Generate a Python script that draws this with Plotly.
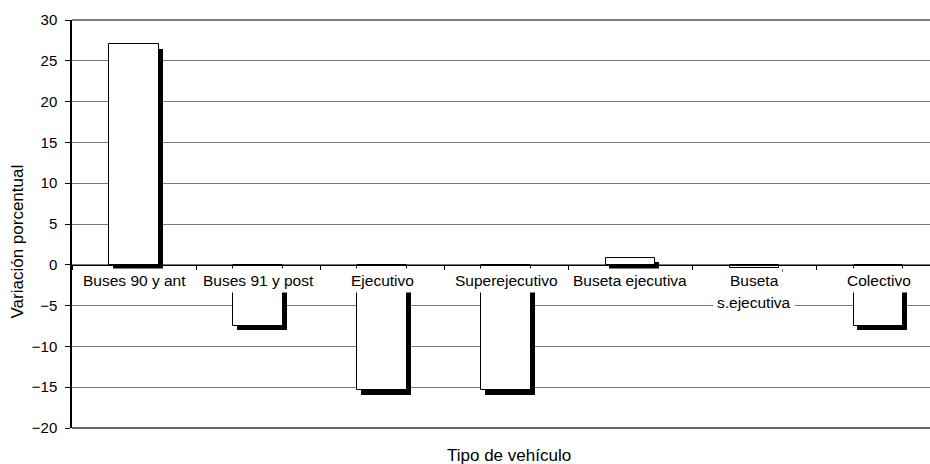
import plotly.graph_objects as go

categories = ["Buses 90 y ant", "Buses 91 y post", "Ejecutivo", "Superejecutivo",
              "Buseta ejecutiva", "Buseta<br>s.ejecutiva", "Colectivo"]
values = [27.0, -7.5, -15.4, -15.4, 0.8, -0.4, -7.5]
y_ticks = [-20, -15, -10, -5, 0, 5, 10, 15, 20, 25, 30]

FONT = "Liberation Sans, Arial, sans-serif"
x_idx = list(range(len(categories)))
boundaries = [i - 0.5 for i in range(len(categories) + 1)]

# shadow offsets (style constants)
SH_X = 0.03   # category units
SH_Y = 0.5    # value units
BAR_W = 0.4

fig = go.Figure()
fig.add_trace(go.Bar(
    x=x_idx, y=values, base=[-SH_Y] * len(values),
    width=BAR_W, offset=-BAR_W / 2 + SH_X,
    marker=dict(color="black", line=dict(width=0)),
    hoverinfo="skip", showlegend=False))
fig.add_trace(go.Bar(
    x=x_idx, y=values,
    width=BAR_W, offset=-BAR_W / 2,
    marker=dict(color="white", line=dict(color="black", width=1)),
    showlegend=False))

annotations = []
for i, lab in enumerate(categories):
    for j, line in enumerate(lab.split("<br>")):
        annotations.append(dict(
            x=i, y=0, xref="x", yref="y", text=line, showarrow=False,
            yanchor="top", xanchor="center", yshift=-3 - 22 * j,
            bgcolor="white", borderpad=3,
            font=dict(family=FONT, size=15.5, color="black")))

annotations.append(dict(
    x=(509 - 72) / 858, y=-27 / 408, xref="paper", yref="paper",
    text="Tipo de vehículo", showarrow=False, xanchor="center", yanchor="middle",
    font=dict(family=FONT, size=17, color="black")))
annotations.append(dict(
    x=-(72 - 17) / 858, y=(428 - 241.5) / 408, xref="paper", yref="paper",
    text="Variación porcentual", showarrow=False, textangle=-90,
    xanchor="center", yanchor="middle",
    font=dict(family=FONT, size=17, color="black")))

fig.update_layout(
    width=930, height=464,
    margin=dict(l=72, r=0, t=20, b=36),
    paper_bgcolor="white", plot_bgcolor="white",
    barmode="overlay", bargap=0,
    annotations=annotations,
    shapes=[
        dict(type="line", xref="paper", yref="paper", x0=0, x1=1, y0=1, y1=1,
             line=dict(color="black", width=1)),
        dict(type="line", xref="paper", yref="paper", x0=0, x1=1, y0=0, y1=0,
             line=dict(color="#333333", width=1.5), layer="below"),
    ],
    xaxis=dict(
        range=[-0.5, 6.415], anchor="free", position=0.4,
        tickmode="array", tickvals=boundaries, ticktext=[""] * len(boundaries),
        showline=True, linecolor="black", linewidth=1,
        ticks="outside", ticklen=4, tickcolor="black",
        showticklabels=False, showgrid=False, zeroline=False),
    yaxis=dict(
        range=[-20, 30], tickmode="array", tickvals=y_ticks,
        showline=True, linecolor="black", linewidth=1.5,
        ticks="outside", ticklen=5, tickcolor="black",
        ticklabelstandoff=5,
        gridcolor="#7a7a7a", gridwidth=1.2, zeroline=False,
        tickfont=dict(family=FONT, size=15, color="black")),
)

fig.write_html("out.html")
